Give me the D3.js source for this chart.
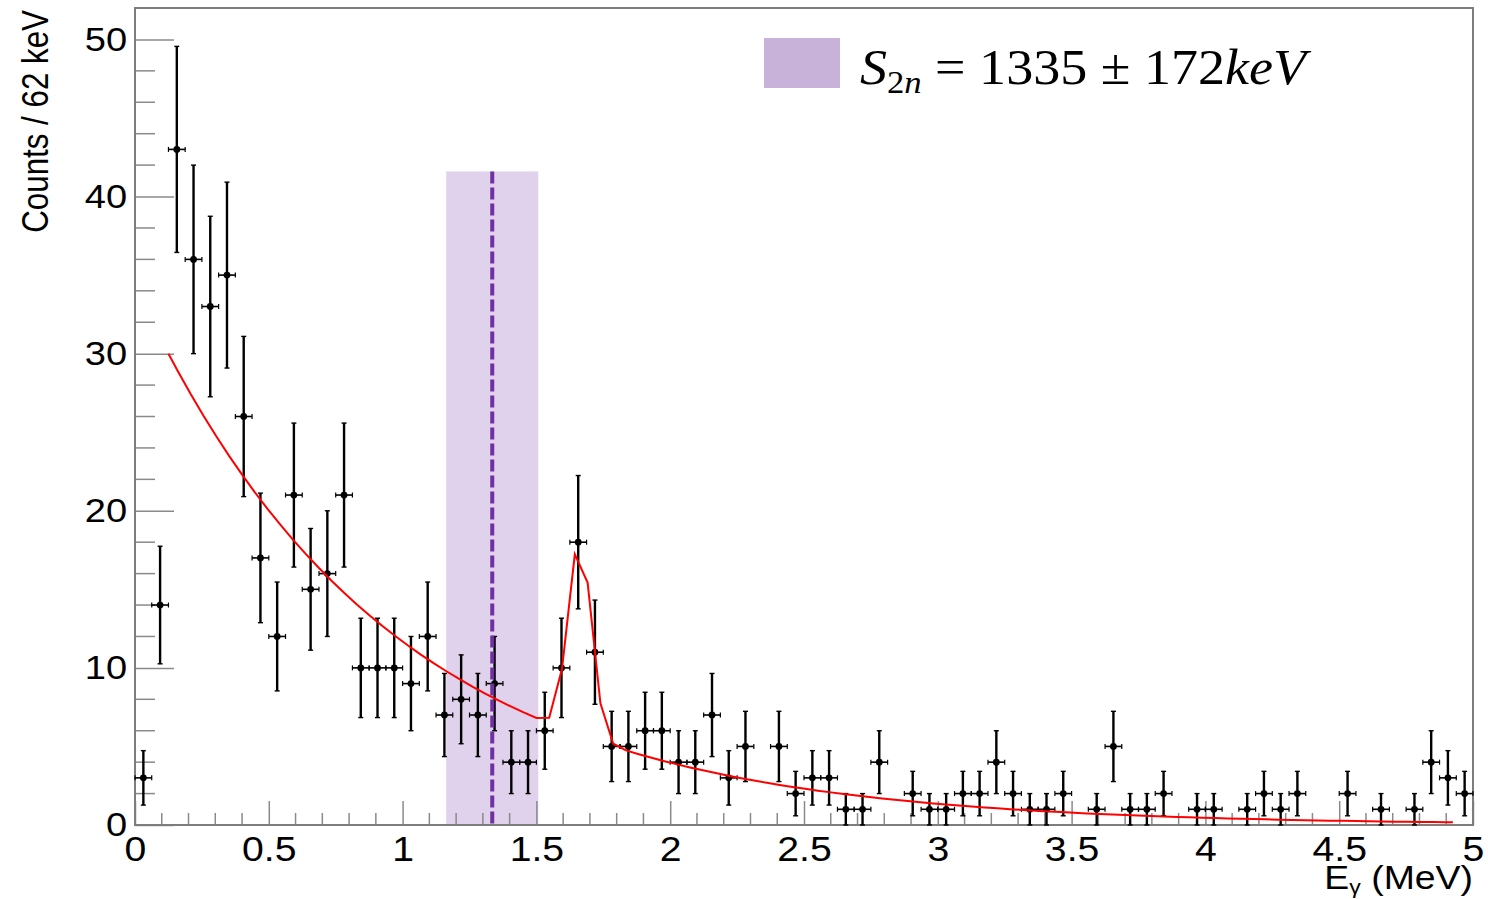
<!DOCTYPE html>
<html>
<head>
<meta charset="utf-8">
<script src="https://cdn.jsdelivr.net/npm/d3@7"></script>
<style>
  html, body { margin: 0; padding: 0; background: #ffffff; }
  svg { display: block; }
</style>
</head>
<body>
<svg id="chart" width="1488" height="899"></svg>
<script>
// Gamma-ray energy spectrum, 80 bins of 62.5 keV between 0 and 5 MeV
const binWidth = 0.0625; // MeV
const counts = [
  3, 14, 43, 36, 33, 35, 26, 17, 12, 21,
  15, 16, 21, 10, 10, 10, 9, 12, 7, 8,
  7, 9, 4, 4, 6, 10, 18, 11, 5, 5,
  6, 6, 4, 4, 7, 3, 5, 0, 5, 2,
  3, 3, 1, 1, 4, 0, 2, 1, 1, 2,
  2, 4, 2, 1, 1, 2, 0, 1, 5, 1,
  1, 2, 0, 1, 1, 0, 1, 2, 1, 2,
  0, 0, 2, 0, 1, 0, 1, 4, 3, 2
];

// Fit: exponential background plus a Gaussian peak
const fitRange = [0.125, 4.925];          // MeV
const expParams = [30, 0.125, 0.927];     // amplitude, reference energy, decay constant
const gausParams = [12.5, 1.662, 0.043];  // amplitude, mean, sigma
const fitStep = 0.04785;                  // sampling step of the drawn function

// Two-neutron separation energy and its uncertainty (keV)
const s2n = [1335, 172];
const bandTop = 41.6;

const xTicksMajor = [0, 0.5, 1, 1.5, 2, 2.5, 3, 3.5, 4, 4.5, 5];
const xTickLabels = ["0", "0.5", "1", "1.5", "2", "2.5", "3", "3.5", "4", "4.5", "5"];
const yTicksMajor = [0, 10, 20, 30, 40, 50];
const yTickLabels = ["0", "10", "20", "30", "40", "50"];

const svg = d3.select("#chart");
const W = 1488, H = 899;
const frame = { left: 135, right: 1473, top: 8, bottom: 825 };

svg.append("rect").attr("width", W).attr("height", H).attr("fill", "#ffffff");

const x = d3.scaleLinear().domain([0, 5]).range([frame.left, frame.right]);
const y = d3.scaleLinear().domain([0, 52]).range([frame.bottom, frame.top]);

const sans = "'Liberation Sans', Arial, Helvetica, sans-serif";
const serif = "'Liberation Serif', 'DejaVu Serif', serif";

// S2n band with the central value
const bandLo = (s2n[0] - s2n[1]) / 1000, bandHi = (s2n[0] + s2n[1]) / 1000;
svg.append("rect")
  .attr("x", x(bandLo)).attr("y", y(bandTop))
  .attr("width", x(bandHi) - x(bandLo))
  .attr("height", y(0) - y(bandTop))
  .attr("fill", "#e0d2ec");

// Minor ticks
const xMinor = d3.range(0, 51).map(d => d / 10).filter(d => Math.abs(d * 2 - Math.round(d * 2)) > 1e-6);
const yMinor = d3.range(0, 53, 2).filter(d => d % 10 !== 0);
const tickColor = "#8a8a8a";

svg.append("g").selectAll("line").data(xMinor).join("line")
  .attr("x1", d => x(d)).attr("x2", d => x(d))
  .attr("y1", frame.bottom).attr("y2", frame.bottom - 12)
  .attr("stroke", tickColor).attr("stroke-width", 1.5);
svg.append("g").selectAll("line").data(yMinor).join("line")
  .attr("x1", frame.left).attr("x2", frame.left + 20)
  .attr("y1", d => y(d)).attr("y2", d => y(d))
  .attr("stroke", tickColor).attr("stroke-width", 1.5);

// Major ticks and labels
const xAxis = svg.append("g")
  .attr("transform", `translate(0,${frame.bottom})`)
  .call(d3.axisBottom(x).tickValues(xTicksMajor)
    .tickFormat((d, i) => xTickLabels[i]).tickSize(-24).tickPadding(11));
xAxis.select(".domain").remove();
xAxis.selectAll(".tick line").attr("stroke", tickColor).attr("stroke-width", 1.5);
xAxis.selectAll(".tick text")
  .attr("font-family", sans).attr("font-size", 35).attr("fill", "#000")
  .attr("transform", "scale(1.12,1)");

const yAxis = svg.append("g")
  .attr("transform", `translate(${frame.left},0)`)
  .call(d3.axisLeft(y).tickValues(yTicksMajor)
    .tickFormat((d, i) => yTickLabels[i]).tickSize(-39).tickPadding(7));
yAxis.select(".domain").remove();
yAxis.selectAll(".tick line").attr("stroke", tickColor).attr("stroke-width", 1.5);
yAxis.selectAll(".tick text")
  .attr("font-family", sans).attr("font-size", 34).attr("fill", "#000")
  .attr("transform", "scale(1.12,1)");

// Frame
svg.append("rect")
  .attr("x", frame.left).attr("y", frame.top)
  .attr("width", frame.right - frame.left).attr("height", frame.bottom - frame.top)
  .attr("fill", "none").attr("stroke", "#7d7d7d").attr("stroke-width", 2);

// Histogram points with Poisson errors (empty bins are not drawn)
const pts = counts.map((c, i) => ({ e: (i + 0.5) * binWidth, c, err: Math.sqrt(c) }))
  .filter(d => d.c > 0);
const gPts = svg.append("g").attr("stroke", "#000").attr("fill", "#000");
const cap = 2.5;
pts.forEach(d => {
  const cx = x(d.e), cy = y(d.c);
  const xl = x(d.e - binWidth / 2), xr = x(d.e + binWidth / 2);
  const yt = y(d.c + d.err), yb = y(d.c - d.err);
  gPts.append("line").attr("x1", xl).attr("x2", xr).attr("y1", cy).attr("y2", cy).attr("stroke-width", 1.6);
  gPts.append("line").attr("x1", xl).attr("x2", xl).attr("y1", cy - cap).attr("y2", cy + cap).attr("stroke-width", 1.2);
  gPts.append("line").attr("x1", xr).attr("x2", xr).attr("y1", cy - cap).attr("y2", cy + cap).attr("stroke-width", 1.2);
  gPts.append("line").attr("x1", cx).attr("x2", cx).attr("y1", yt).attr("y2", yb).attr("stroke-width", 2.4);
  gPts.append("line").attr("x1", cx - cap).attr("x2", cx + cap).attr("y1", yt).attr("y2", yt).attr("stroke-width", 1.4);
  gPts.append("line").attr("x1", cx - cap).attr("x2", cx + cap).attr("y1", yb).attr("y2", yb).attr("stroke-width", 1.4);
  gPts.append("circle").attr("cx", cx).attr("cy", cy).attr("r", 3.4).attr("stroke", "none");
});

// Central S2n value
svg.append("line")
  .attr("x1", x(s2n[0] / 1000)).attr("x2", x(s2n[0] / 1000))
  .attr("y1", y(bandTop)).attr("y2", y(0))
  .attr("stroke", "#7030a0").attr("stroke-width", 4)
  .attr("stroke-dasharray", "12,4");

// Fit function sampled on a fixed grid, as drawn by the fitting package
const fitFn = e => expParams[0] * Math.exp(-(e - expParams[1]) / expParams[2])
  + gausParams[0] * Math.exp(-Math.pow(e - gausParams[1], 2) / (2 * gausParams[2] * gausParams[2]));
const grid = [fitRange[0]];
for (let k = -28; k <= 71; k++) grid.push(1.5 + k * fitStep);
grid.push(fitRange[1]);
const fitPts = grid.filter(e => e >= fitRange[0] && e <= fitRange[1]).map(e => [e, fitFn(e)]);
svg.append("path")
  .datum(fitPts)
  .attr("d", d3.line().x(d => x(d[0])).y(d => y(d[1])))
  .attr("fill", "none").attr("stroke", "#ff0000").attr("stroke-width", 2);

// Axis titles
const xt = svg.append("text")
  .attr("text-anchor", "end")
  .attr("transform", `translate(${frame.right},889) scale(1.1,1)`)
  .attr("font-family", sans).attr("font-size", 34).attr("fill", "#000");
xt.append("tspan").text("E");
xt.append("tspan").attr("font-size", 21).attr("dy", 5).text("γ");
xt.append("tspan").attr("dy", -5).text(" (MeV)");

svg.append("text")
  .attr("transform", "translate(48,10) rotate(-90) scale(0.87,1)")
  .attr("text-anchor", "end")
  .attr("font-family", sans).attr("font-size", 36).attr("fill", "#000")
  .text("Counts / 62 keV");

// Legend
svg.append("rect")
  .attr("x", 764).attr("y", 38).attr("width", 76).attr("height", 50)
  .attr("fill", "#c9b2da");
const lg = svg.append("g");
const lt = lg.append("text")
  .attr("x", 860).attr("y", 84)
  .attr("font-family", serif).attr("font-size", 50).attr("fill", "#000");
lt.append("tspan").attr("font-style", "italic").text("S");
lt.append("tspan").attr("font-size", 32).attr("dy", 9).text("2");
lt.append("tspan").attr("font-size", 32).attr("font-style", "italic").text("n");
lt.append("tspan").attr("dy", -9).text(` = ${s2n[0]} ± ${s2n[1]}`);
lt.append("tspan").attr("font-style", "italic").text("keV");
const bb = lt.node().getBBox();
const sx = 452 / bb.width;
lg.attr("transform", `translate(860,0) scale(${sx},1) translate(-860,0)`);
</script>
</body>
</html>
